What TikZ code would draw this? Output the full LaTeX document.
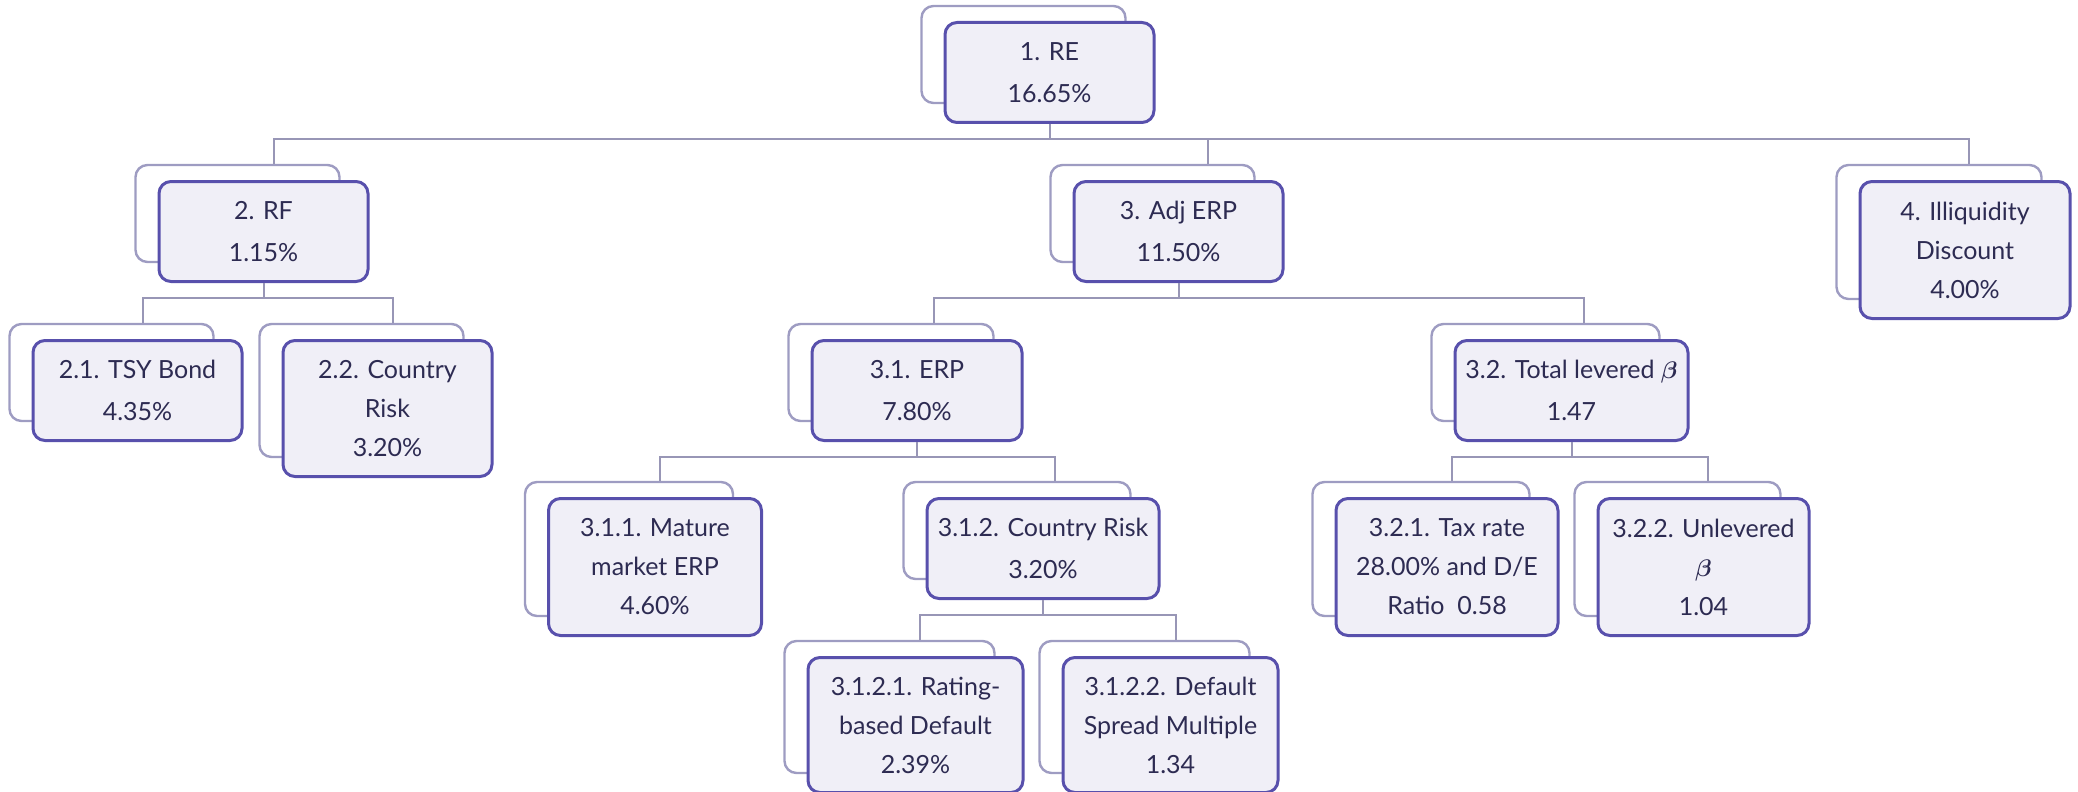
\documentclass[tikz,border=0pt]{standalone}
\usepackage{amsmath}
\usepackage{bm}
\usepackage{fontspec}
\setmainfont{Lato}
\usetikzlibrary{calc,fit,backgrounds}

\definecolor{cardline}{RGB}{88,80,172}
\definecolor{cardfill}{RGB}{240,239,247}
\definecolor{shadeline}{RGB}{158,156,194}
\definecolor{linkline}{RGB}{152,150,182}
\definecolor{cardtext}{RGB}{45,43,82}

\tikzset{
  card/.style={draw=cardline, line width=1.5pt, fill=cardfill, rounded corners=6pt,
    anchor=north, align=center, text=cardtext, inner sep=4pt,
    minimum width=104.5pt, minimum height=50pt,
    font=\fontsize{12.5}{19.5}\selectfont},
  pair/.style={font=\fontsize{12.5}{21}\selectfont},
  tall/.style={minimum height=68.5pt},
  shadebox/.style={draw=shadeline, line width=1.2pt, fill=white, rounded corners=6pt, inner sep=0pt},
  link/.style={draw=linkline, line width=1pt}
}

\begin{document}
\begin{tikzpicture}[x=0.5pt,y=0.5pt,yscale=-1,xscale=1]
\useasboundingbox (0,0) rectangle (2078,792);

% Row 1
\node[card,pair] (re) at (1049.5,21) {1. RE\\16.65\%};

% Row 2
\node[card,pair] (rf) at (263.5,180) {2. RF\\1.15\%};
\node[card,pair] (adj) at (1178.5,180) {3. Adj ERP\\11.50\%};
\node[card,tall,minimum width=105pt] (ill) at (1965,180) {4. Illiquidity\\Discount\\4.00\%};

% Row 3
\node[card,pair] (tsy) at (137.5,339) {2.1. TSY Bond\\4.35\%};
\node[card,minimum height=68pt] (crk) at (387.5,339) {2.2. Country\\Risk\\3.20\%};
\node[card,pair,minimum width=105pt] (erp) at (917,339) {3.1. ERP\\7.80\%};
\node[card,pair,minimum width=116.5pt] (lev) at (1571.5,339) {3.2. Total levered $\bm{\beta}$\\1.47};

% Row 4
\node[card,tall,minimum width=106.5pt] (mat) at (655,497) {3.1.1. Mature\\market ERP\\4.60\%};
\node[card,pair,minimum width=116pt] (cty) at (1043,497) {3.1.2. Country Risk\\3.20\%};
\node[card,tall,minimum width=111pt] (tax) at (1447,497) {3.2.1. Tax rate\\28.00\% and D/E\\Ratio~ 0.58};
\node[card,tall,minimum width=105.5pt] (unl) at (1703.5,497) {3.2.2. Unlevered\\$\bm{\beta}$\\1.04};

% Row 5
\node[card,minimum width=107.5pt,minimum height=67.5pt] (rat) at (915.5,656) {3.1.2.1. Rating-\\based Default\\2.39\%};
\node[card,minimum width=107.5pt,minimum height=67.5pt] (spr) at (1170.5,656) {3.1.2.2. Default\\Spread Multiple\\1.34};

% shadow cards behind
\begin{scope}[on background layer]
\foreach \n in {re,rf,adj,ill,tsy,crk,erp,lev,mat,cty,tax,unl,rat,spr}
  \node[shadebox, fit={($(\n.north west)+(-22,-15)$) ($(\n.south east)+(-30,-21)$)}] (\n-b) {};
\end{scope}

% tree links
\foreach \p/\c/\d in {re/rf/36.5, re/adj/55.5, re/ill/30, rf/tsy/31.5, rf/crk/31.5,
    adj/erp/43, adj/lev/38, erp/mat/31, erp/cty/38, lev/tax/31, lev/unl/30.5,
    cty/rat/30.5, cty/spr/31.5}
  \draw[link] (\p.south) -- ++(0,15) -| ($(\c-b.north)+(\d,0)$);

\end{tikzpicture}
\end{document}
